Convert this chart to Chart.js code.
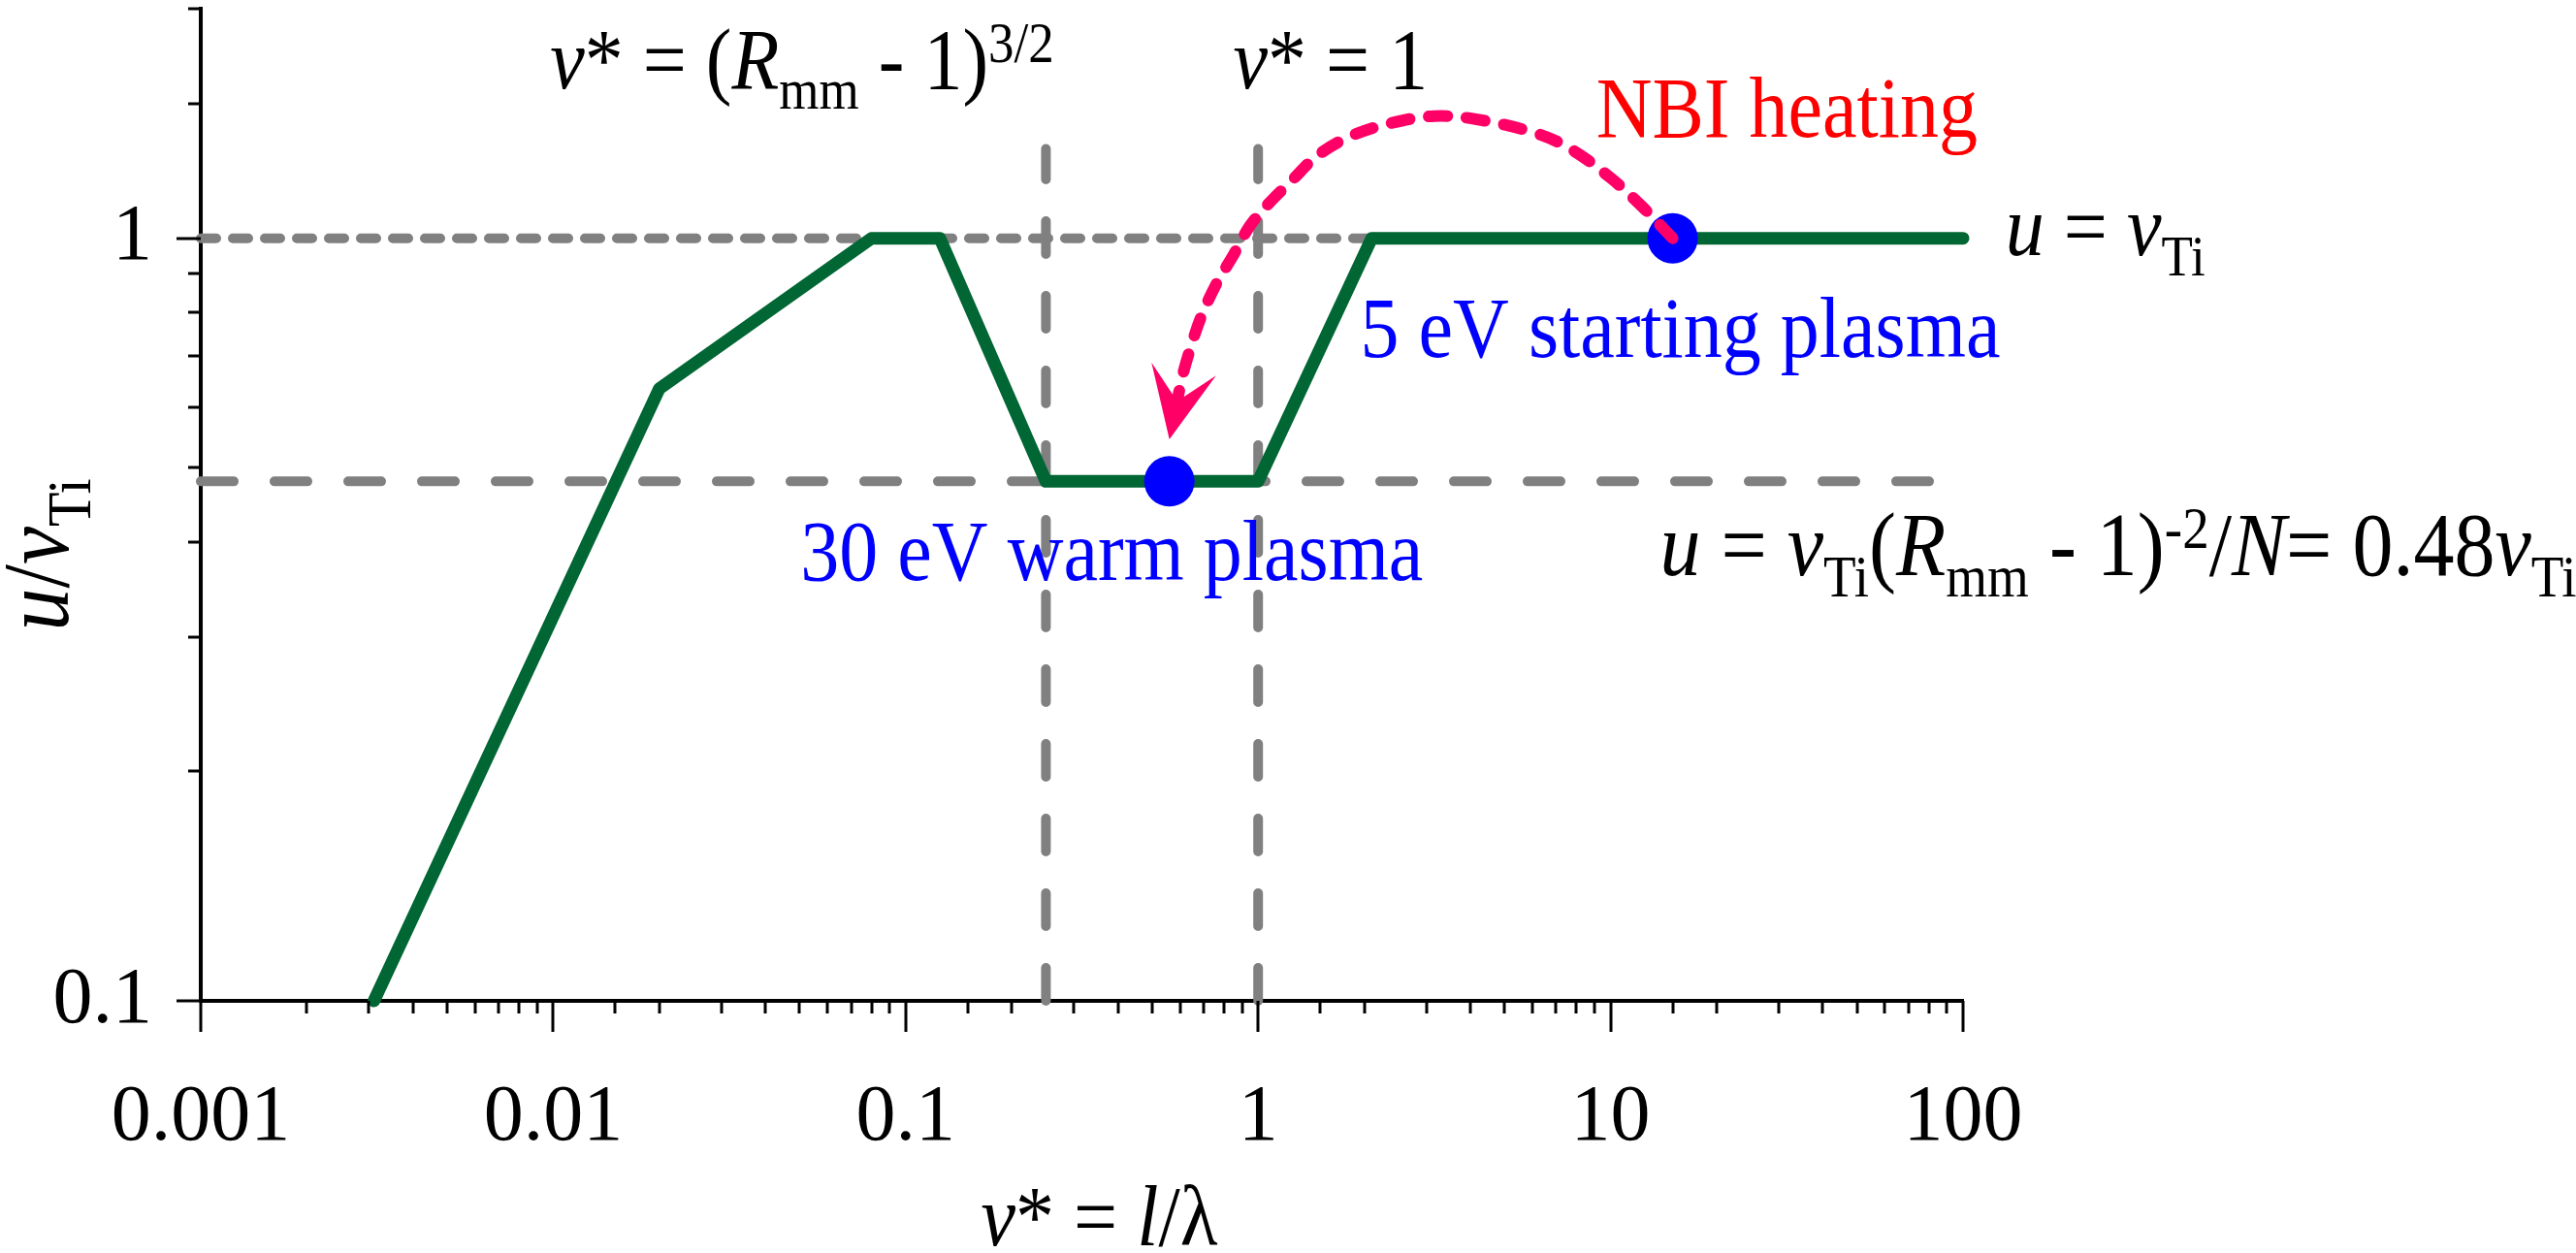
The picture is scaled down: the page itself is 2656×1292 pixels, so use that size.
<!DOCTYPE html>
<html>
<head>
<meta charset="utf-8">
<title>u / vTi versus collisionality</title>
<script src="https://cdn.jsdelivr.net/npm/chart.js@4.4.1/dist/chart.umd.min.js"></script>
<style>
  html, body { margin: 0; padding: 0; background: #fff; }
  canvas { display: block; }
</style>
</head>
<body>
<canvas id="chart" width="2656" height="1292"></canvas>
<script>
// green curve: u/vTi against nu*
const curveX = [0.0031, 0.02, 0.08, 0.125, 0.25, 1, 2.1, 100];
const curveY = [0.1, 0.635, 1, 1, 0.48, 0.48, 1, 1];

// the two plasma states (blue dots): 30 eV warm, 5 eV starting
const stateX = [0.56, 15];
const stateY = [0.48, 1];

const arcX = [15, 12.3, 10, 7.7, 6.1, 4.1, 3.15, 2.4, 1.85, 1.48, 1.24, 1.09, 0.95, 0.85, 0.76, 0.69, 0.65, 0.61, 0.59];
const arcY = [1, 1.10, 1.20, 1.31, 1.375, 1.434, 1.446, 1.417, 1.364, 1.286, 1.188, 1.12, 1.04, 0.95, 0.87, 0.79, 0.73, 0.66, 0.613];
const arrowTip = [0.56, 0.545];

// reference levels
const levelY = [1, 0.48];   // u = vTi, u = 0.48 vTi
const collX = [0.25, 1];    // nu* = (Rmm - 1)^(3/2), nu* = 1
const collTop = 1.31;

const xRange = [0.001, 100];
const yRange = [0.1, 2];
const xTickValues = [0.001, 0.01, 0.1, 1, 10, 100];
const xTickLabels = ['0.001', '0.01', '0.1', '1', '10', '100'];
const yTickValues = [0.1, 1];
const yTickLabels = ['0.1', '1'];

const FONT = '"Liberation Serif", "Times New Roman", serif';
const GREEN = '#006633';
const GREY = '#808080';
const PINK = '#ff0066';
const BLUE = '#0000ff';

function pts(xs, ys) {
    return xs.map((x, i) => ({x: x, y: ys[i]}));
}

function isDecade(v) {
    let l = Math.log10(v);
    return Math.abs(l - Math.round(l)) < 1e-6;
}

function labelFor(v, values, labels) {
    for (let i = 0; i < values.length; i++) {
        if (Math.abs(Math.log10(v) - Math.log10(values[i])) < 1e-6) {return labels[i];}
    }
    return '';
}

// rich text: runs of [text, style], style: i = italic, b = subscript, p = superscript
function runFont(style, size) {
    let italic = style.indexOf('i') >= 0;
    let small = style.indexOf('b') >= 0 || style.indexOf('p') >= 0;
    return (italic ? 'italic ' : '') + Math.round(small ? size * 0.66 : size) + 'px ' + FONT;
}

function runShift(style, size) {
    if (style.indexOf('b') >= 0) {return size * 0.24;}
    if (style.indexOf('p') >= 0) {return -size * 0.3;}
    return 0;
}

function drawRich(ctx, runs, x, y, size, color, align) {
    ctx.save();
    ctx.fillStyle = color;
    ctx.textBaseline = 'alphabetic';
    ctx.textAlign = 'left';
    let total = 0;
    runs.forEach(r => {
        ctx.font = runFont(r[1], size);
        total += ctx.measureText(r[0]).width;
    });
    ctx.translate(x, y);
    ctx.scale(1, 1.1); // the original type is a little taller than it is wide
    let cx = align === 'center' ? -total / 2 : 0;
    runs.forEach(r => {
        ctx.font = runFont(r[1], size);
        ctx.fillText(r[0], cx, runShift(r[1], size));
        cx += ctx.measureText(r[0]).width;
    });
    ctx.restore();
}

// text notes, anchored (left, baseline) in data coordinates
const notes = [
    {x: 0.0098, y: 1.575, size: 80, color: '#000', runs: [['ν', 'i'], ['* = (', ''], ['R', 'i'], ['mm', 'b'], [' - 1)', ''], ['3/2', 'p']]},
    {x: 0.85, y: 1.575, size: 80, color: '#000', runs: [['ν', 'i'], ['* = 1', '']]},
    {x: 9.1, y: 1.36, size: 80, color: '#ff0000', runs: [['NBI heating', '']]},
    {x: 132, y: 0.95, size: 80, color: '#000', runs: [['u', 'i'], [' = ', ''], ['v', 'i'], ['Ti', 'b']]},
    {x: 1.95, y: 0.698, size: 80, color: BLUE, runs: [['5 eV starting plasma', '']]},
    {x: 0.0503, y: 0.356, size: 80, color: BLUE, runs: [['30 eV warm plasma', '']]},
    {x: 13.8, y: 0.362, size: 84, color: '#000', runs: [['u', 'i'], [' = ', ''], ['v', 'i'], ['Ti', 'b'], ['(', ''], ['R', 'i'], ['mm', 'b'], [' - 1)', ''], ['-2', 'p'], ['/', ''], ['N', 'i'], ['= 0.48', ''], ['v', 'i'], ['Ti', 'b']]}
];

const decorations = {
    id: 'decorations',
    afterDatasetsDraw(chart) {
        // arrow head at the end of the heating arc
        let ctx = chart.ctx;
        let xs = chart.scales.x, ys = chart.scales.y;
        let n = arcX.length - 1;
        let bx = xs.getPixelForValue(arcX[n]), by = ys.getPixelForValue(arcY[n]);
        let tx = xs.getPixelForValue(arrowTip[0]), ty = ys.getPixelForValue(arrowTip[1]);
        let dx = tx - bx, dy = ty - by;
        let len = Math.sqrt(dx * dx + dy * dy);
        dx /= len; dy /= len;
        let px = -dy, py = dx;
        ctx.save();
        ctx.fillStyle = PINK;
        ctx.beginPath();
        ctx.moveTo(tx, ty);
        ctx.lineTo(tx - dx * 74 + px * 34, ty - dy * 74 + py * 34);
        ctx.lineTo(tx - dx * 40, ty - dy * 40);
        ctx.lineTo(tx - dx * 74 - px * 34, ty - dy * 74 - py * 34);
        ctx.closePath();
        ctx.fill();
        ctx.restore();
    },
    afterDraw(chart) {
        let ctx = chart.ctx;
        let xs = chart.scales.x, ys = chart.scales.y;

        // tick marks, long on decades
        ctx.save();
        ctx.strokeStyle = '#000';
        ctx.lineWidth = 3;
        ctx.beginPath();
        xs.ticks.forEach(t => {
            let p = Math.round(xs.getPixelForValue(t.value));
            ctx.moveTo(p, ys.bottom);
            ctx.lineTo(p, ys.bottom + (isDecade(t.value) ? 32 : 13));
        });
        ys.ticks.forEach(t => {
            let p = Math.round(ys.getPixelForValue(t.value));
            ctx.moveTo(xs.left, p);
            ctx.lineTo(xs.left - (isDecade(t.value) ? 25 : 13), p);
        });
        ctx.stroke();
        ctx.restore();

        notes.forEach(nt => {
            drawRich(ctx, nt.runs, xs.getPixelForValue(nt.x), ys.getPixelForValue(nt.y), nt.size, nt.color, 'left');
        });

        // axis titles
        drawRich(ctx, [['ν', 'i'], ['* = ', ''], ['l', 'i'], ['/λ', '']],
            (xs.left + xs.right) / 2 + 18, 1284, 80, '#000', 'center');
        ctx.save();
        ctx.translate(70, 572);
        ctx.rotate(-Math.PI / 2);
        drawRich(ctx, [['u', 'i'], ['/', ''], ['v', 'i'], ['Ti', 'b']], 0, 0, 88, '#000', 'center');
        ctx.restore();
    }
};

function lineSet(data, color, width, dash) {
    return {
        data: data,
        showLine: true,
        borderColor: color,
        borderWidth: width,
        borderDash: dash,
        borderCapStyle: 'round',
        borderJoinStyle: 'round',
        pointRadius: 0,
        tension: 0,
        clip: false
    };
}

let arcSet = lineSet(pts(arcX, arcY), PINK, 12, [19, 20]);
arcSet.tension = 0.35;

const datasets = [
    arcSet,
    {
        data: pts(stateX, stateY),
        showLine: false,
        pointRadius: 26,
        pointBackgroundColor: BLUE,
        pointBorderWidth: 0,
        clip: false
    },
    lineSet(pts(curveX, curveY), GREEN, 13, []),
    lineSet([{x: xRange[0], y: levelY[0]}, {x: xRange[1], y: levelY[0]}], GREY, 10, [16, 17]),
    lineSet([{x: xRange[0], y: levelY[1]}, {x: xRange[1], y: levelY[1]}], GREY, 10, [34, 42]),
    lineSet([{x: collX[0], y: yRange[0]}, {x: collX[0], y: collTop}], GREY, 10, [34, 43]),
    lineSet([{x: collX[1], y: yRange[0]}, {x: collX[1], y: collTop}], GREY, 10, [34, 43])
];

new Chart(document.getElementById('chart'), {
    type: 'scatter',
    data: {datasets: datasets},
    plugins: [decorations],
    options: {
        responsive: false,
        devicePixelRatio: 1,
        animation: false,
        events: [],
        layout: {autoPadding: false, padding: {top: 9, right: 632, left: 0, bottom: 0}},
        plugins: {legend: {display: false}, tooltip: {enabled: false}},
        scales: {
            x: {
                type: 'logarithmic',
                min: xRange[0],
                max: xRange[1],
                afterFit: s => { s.height = 260; s.paddingLeft = 0; s.paddingRight = 0; },
                grid: {display: false, drawTicks: false},
                border: {display: true, color: '#000', width: 4},
                ticks: {
                    autoSkip: false,
                    maxRotation: 0,
                    padding: 72,
                    color: '#000',
                    font: {family: FONT, size: 82},
                    callback: v => labelFor(v, xTickValues, xTickLabels)
                }
            },
            y: {
                type: 'logarithmic',
                min: yRange[0],
                max: yRange[1],
                afterFit: s => { s.width = 207; s.paddingTop = 0; s.paddingBottom = 0; },
                grid: {display: false, drawTicks: false},
                border: {display: true, color: '#000', width: 4},
                ticks: {
                    autoSkip: false,
                    padding: 50,
                    color: '#000',
                    font: {family: FONT, size: 82},
                    callback: v => labelFor(v, yTickValues, yTickLabels)
                }
            }
        }
    }
});
</script>
</body>
</html>
